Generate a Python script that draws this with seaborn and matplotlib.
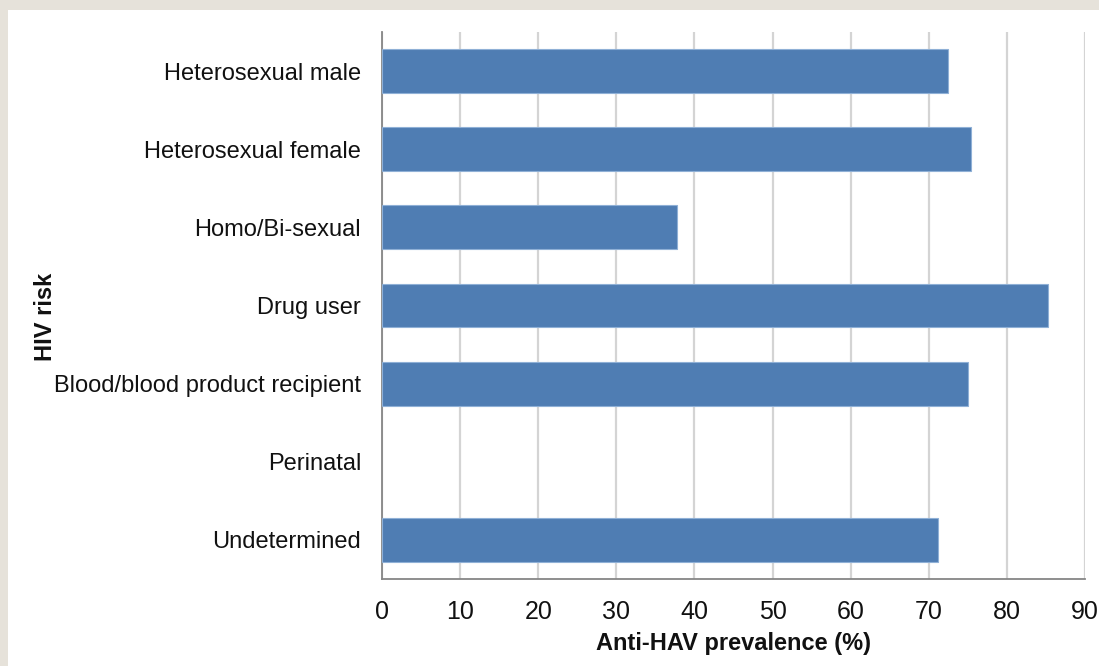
import matplotlib
matplotlib.use("Agg")
import matplotlib.pyplot as plt
import seaborn as sns
import pandas as pd
from matplotlib.patches import Rectangle

sns.set_theme(style="white")
plt.rcParams['font.family'] = ['Liberation Sans', 'DejaVu Sans']

# Data
categories = [
    "Heterosexual male", "Heterosexual female", "Homo/Bi-sexual", "Drug user",
    "Blood/blood product recipient", "Perinatal", "Undetermined"
]
prevalence = [72.4, 75.4, 37.8, 85.3, 75.0, 0.0, 71.2]

df = pd.DataFrame({'risk': categories, 'prev': prevalence})

fig = plt.figure(figsize=(10.99, 6.66), dpi=100)
fig.patch.set_facecolor('#e6e2da')
# white panel inside the beige frame
fig.patches.append(Rectangle((8 / 1099, 0), 1, 1 - 10 / 666, transform=fig.transFigure,
                             facecolor='white', edgecolor='none', zorder=-1))

ax = fig.add_axes([382 / 1099, 1 - 579 / 666, (1085 - 382) / 1099, (579 - 32) / 666])
ax.set_facecolor('none')

sns.barplot(data=df, x='prev', y='risk', order=categories, color='#4f7db3',
            saturation=1, width=0.56, edgecolor='#8fb0d6', linewidth=0.8, ax=ax, zorder=3)

# empty category: no outline sliver
for p in ax.patches:
    if p.get_width() == 0:
        p.set_visible(False)

ax.set_xlim(0, 90)
ax.set_xticks(range(0, 91, 10))
ax.grid(axis='x', color='#d4d4d4', linewidth=1.6, zorder=0)
ax.set_axisbelow(True)

for s in ['top', 'right']:
    ax.spines[s].set_visible(False)
for s in ['left', 'bottom']:
    ax.spines[s].set_color('#868686')
    ax.spines[s].set_linewidth(1.3)

ax.tick_params(axis='y', labelsize=17, length=0, pad=15, labelcolor='#111111')
ax.tick_params(axis='x', labelsize=18, length=0, pad=15, labelcolor='#111111')

ax.set_xlabel('Anti-HAV prevalence (%)', fontsize=17, fontweight='bold', labelpad=6, color='#111111')
ax.set_ylabel('HIV risk', fontsize=17, fontweight='bold', color='#111111')
ax.yaxis.set_label_coords(-0.463, 0.479)

fig.savefig('out.png', dpi=100, facecolor=fig.get_facecolor())
